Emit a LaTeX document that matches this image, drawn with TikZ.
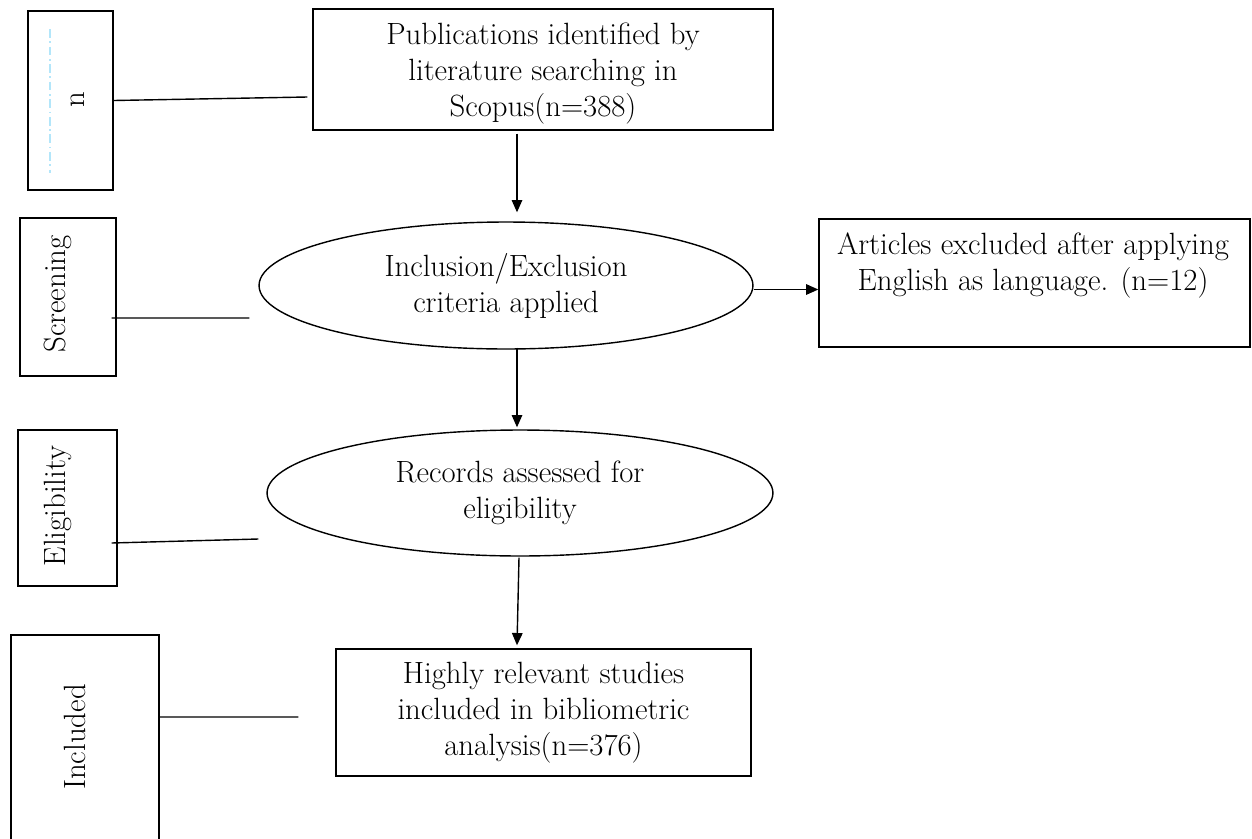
\documentclass[tikz,border=0pt]{standalone}
\usetikzlibrary{shapes.geometric,arrows.meta,calc}
\begin{document}
\begin{tikzpicture}[x=0.02cm,y=-0.02cm,
  every node/.style={font=\fontsize{17.5}{20.5}\selectfont},
  box/.style={draw,line width=0.8pt,inner sep=0pt,align=center},
  oval/.style={draw,line width=0.8pt,ellipse,inner sep=0pt,align=center},
  side/.style={draw,line width=0.8pt,inner sep=0pt},
  vlabel/.style={rotate=90,inner sep=0pt},
  link/.style={line width=0.8pt},
  arr/.style={line width=0.8pt,-{Triangle[length=7pt,width=6pt]}}]
\useasboundingbox (0,0) rectangle (1252,839);
% side boxes
\node[side,minimum width=1.7cm,minimum height=3.58cm] (nbox) at (70.5,100.5) {};
\draw[cyan!30,line width=0.8pt,dash pattern=on 5pt off 2pt on 1pt off 2pt] (50,29) -- (50,173);
\node[vlabel] (nlab) at (78,100) {n};
\node[side,minimum width=1.92cm,minimum height=3.16cm] (scr) at (68,297) {};
\node[vlabel] (scrlab) at (58,294) {Screening};
\node[side,minimum width=1.98cm,minimum height=3.12cm] (elig) at (67.5,508) {};
\node[vlabel] (eliglab) at (58,506) {Eligibility};
\node[side,minimum width=2.96cm,minimum height=4.4cm] (inc) at (85,745) {};
\node[vlabel] (inclab) at (75,737) {Included};
% main flow
\node[box,minimum width=9.2cm,minimum height=2.42cm] (top) at (543,69.5) {};
\node[align=center] (toptext) at (543,74) {Publications identified by\\literature searching in\\Scopus(n=388)};
\node[oval,minimum width=9.88cm,minimum height=2.54cm] (ell1) at (506,285.5) {Inclusion/Exclusion\\criteria applied};
\node[oval,minimum width=10.12cm,minimum height=2.52cm] (ell2) at (520,493) {Records assessed for\\eligibility};
\node[box,minimum width=8.3cm,minimum height=2.54cm] (bot) at (543.5,712.5) {Highly relevant studies\\included in bibliometric\\analysis(n=376)};
\node[box,minimum width=8.62cm,minimum height=2.56cm] (rbox) at (1034.5,283) {};
\node[align=center] (rtext) at (1033,265) {Articles excluded after applying\\English as language. (n=12)};
% arrows
\draw[arr] ($(top.south)+(-26,3)$) -- ($(ell1.north)+(11,-9)$);
\draw[arr] ($(ell1.south)+(11,-2)$) -- ($(ell2.north)+(-3,-2)$);
\draw[arr] ($(ell2.south)+(-1,1)$) -- ($(bot.north)+(-26.5,-3)$);
\draw[arr] ($(ell1.east)+(0,4)$) -- ($(ell1.east -| rbox.west)+(0,4)$);
% side links
\draw[link] (nbox.east) -- ($(top.west)+(-5,27.5)$);
\draw[link] ($(scr.east)+(-5,21)$) -- ($(ell1.west)+(-9,32.5)$);
\draw[link] ($(elig.east)+(-6,35)$) -- ($(ell2.west)+(-8,46)$);
\draw[link] ($(inc.east)+(0,-28)$) -- ($(bot.west)+(-37,4.5)$);
\end{tikzpicture}
\end{document}
